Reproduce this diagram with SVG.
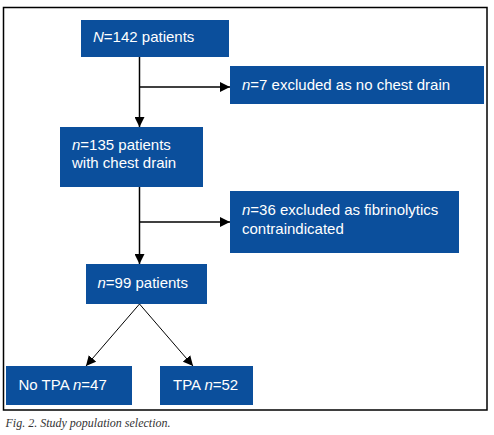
<svg xmlns="http://www.w3.org/2000/svg" width="494" height="435" viewBox="0 0 494 435">
<style>
.box{fill:#0b4f9c}
.t{font-family:"Liberation Sans","Noto Sans",Arial,sans-serif;font-size:15px;fill:#ffffff}
.c{stroke:#000;fill:none}
.cap{font-family:"Liberation Serif","Times New Roman",serif;font-style:italic;font-size:12px;fill:#333}
</style>
<defs>
<marker id="ah" markerUnits="userSpaceOnUse" markerWidth="10" markerHeight="10" viewBox="0 0 10 10" refX="10" refY="5" orient="auto">
<path d="M0,0 L10,5 L0,10 Z" fill="#000"/>
</marker>
</defs>
<rect x="3.5" y="7.5" width="483.5" height="402.5" fill="#fff" stroke="#000" stroke-width="1.5"/>
<g id="connectors">
<line class="c" x1="139.5" y1="57" x2="139.5" y2="127" stroke-width="1.5" marker-end="url(#ah)"/>
<line class="c" x1="139.5" y1="87" x2="230" y2="87" stroke-width="1.5" marker-end="url(#ah)"/>
<line class="c" x1="139.5" y1="187" x2="139.5" y2="264" stroke-width="1.5" marker-end="url(#ah)"/>
<line class="c" x1="139.5" y1="222" x2="230" y2="222" stroke-width="1.5" marker-end="url(#ah)"/>
<line class="c" x1="139.5" y1="304" x2="86" y2="366" stroke-width="1" marker-end="url(#ah)"/>
<line class="c" x1="139.5" y1="304" x2="193" y2="366" stroke-width="1" marker-end="url(#ah)"/>
</g>
<g id="n142">
<rect class="box" x="81" y="20" width="148" height="37"/>
<text class="t" x="93" y="42"><tspan font-style="italic">N</tspan>=142 patients</text>
</g>
<g id="excl7">
<rect class="box" x="230" y="66" width="254" height="38"/>
<text class="t" x="242" y="90"><tspan font-style="italic">n</tspan>=7 excluded as no chest drain</text>
</g>
<g id="n135">
<rect class="box" x="60" y="127" width="143" height="60"/>
<text class="t" x="72" y="150"><tspan font-style="italic">n</tspan>=135 patients</text>
<text class="t" x="72" y="168">with chest drain</text>
</g>
<g id="excl36">
<rect class="box" x="230" y="191" width="229" height="62"/>
<text class="t" x="242" y="215"><tspan font-style="italic">n</tspan>=36 excluded as fibrinolytics</text>
<text class="t" x="242" y="234">contraindicated</text>
</g>
<g id="n99">
<rect class="box" x="86" y="264" width="121" height="40"/>
<text class="t" x="97.5" y="288"><tspan font-style="italic">n</tspan>=99 patients</text>
</g>
<g id="notpa">
<rect class="box" x="6" y="366" width="126" height="39"/>
<text class="t" x="18.5" y="390">No TPA <tspan font-style="italic">n</tspan>=47</text>
</g>
<g id="tpa">
<rect class="box" x="160" y="366" width="93" height="39"/>
<text class="t" x="173" y="390">TPA <tspan font-style="italic">n</tspan>=52</text>
</g>
<text class="cap" x="5.5" y="427">Fig. 2. Study population selection.</text>
</svg>
